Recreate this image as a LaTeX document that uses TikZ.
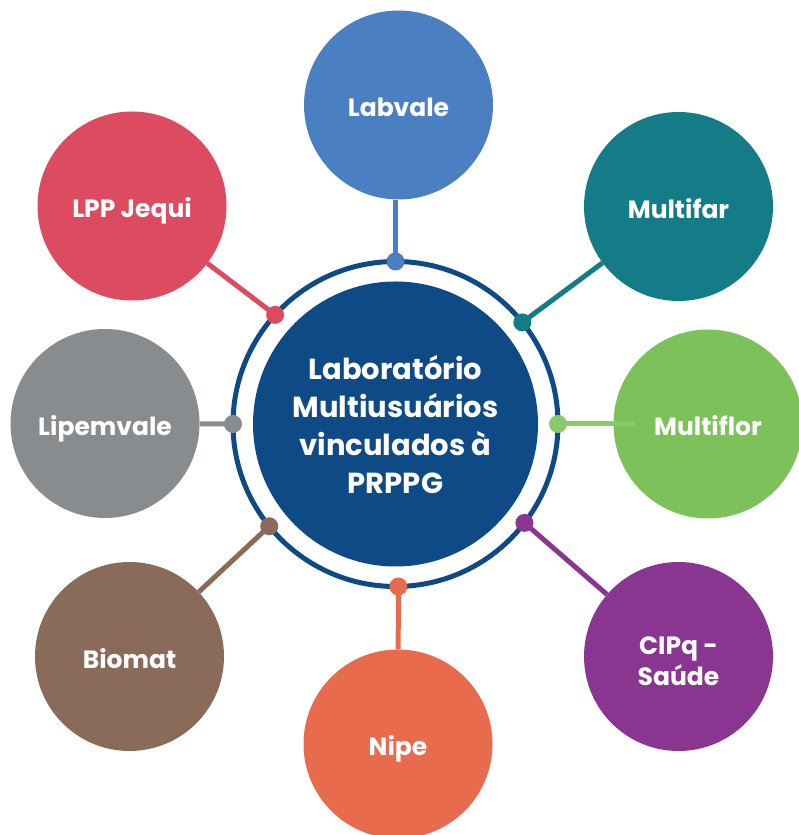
\documentclass[tikz,border=0pt]{standalone}
\usepackage{fontspec}
\setmainfont{Poppins}
\usetikzlibrary{calc}
\definecolor{hubblue}{HTML}{0E4A86}
\definecolor{labvaleblue}{HTML}{4A7FC1}
\definecolor{multifarteal}{HTML}{137C87}
\definecolor{multiflorgreen}{HTML}{7DC15A}
\definecolor{multiflorwire}{HTML}{8CC96B}
\definecolor{cipqpurple}{HTML}{8A3690}
\definecolor{nipeorange}{HTML}{E86B4D}
\definecolor{biomatbrown}{HTML}{8A6A59}
\definecolor{lipemgray}{HTML}{888C8E}
\definecolor{lppred}{HTML}{DC4B60}
\tikzset{
    hubcircle/.style={circle, fill=hubblue, minimum size=285pt, inner sep=0pt,
        text=white, align=center, font=\bfseries\fontsize{29}{38}\selectfont},
    labcircle/.style={circle, minimum size=189pt, inner sep=0pt, text=white,
        align=center, font=\bfseries\fontsize{25}{31}\selectfont,
        text height=24pt, text depth=0pt},
    labwire/.style={line width=5pt},
    labdot/.style={radius=9pt}
}
\begin{document}
\begin{tikzpicture}[x=1pt, y=1pt]
\useasboundingbox (0,0) rectangle (798,835);
% centre and ring
\node[hubcircle] (hub) at (395.5,411) {Laboratório\\Multiusuários\\vinculados à\\PRPPG};
\draw[hubblue, line width=5pt] (hub.center) circle[radius=162.5pt];
% laboratories
\node[labcircle, fill=labvaleblue] (labvale) at (398.5,730) {Labvale};
\node[labcircle, fill=multifarteal] (multifar) at (678.5,628.5) {Multifar};
\node[labcircle, fill=multiflorgreen] (multiflor) at (708,411) {Multiflor};
\node[labcircle, fill=cipqpurple, text height=58pt] (cipq) at (678.5,178.5) {CIPq -\\Saúde};
\node[labcircle, fill=nipeorange] (nipe) at (398,91) {Nipe};
\node[labcircle, fill=biomatbrown] (biomat) at (129.5,178.5) {Biomat};
\node[labcircle, fill=lipemgray] (lipemvale) at (105,411.5) {Lipemvale};
\node[labcircle, fill=lppred] (lpp) at (132,629) {LPP Jequi};
% points on the ring
\coordinate (labvale-dot) at ($(hub.center)+(90:162.5pt)$);
\coordinate (multifar-dot) at ($(hub.center)+(38.7:162.5pt)$);
\coordinate (multiflor-dot) at ($(hub.center)+(0:162.5pt)$);
\coordinate (cipq-dot) at ($(hub.center)+(-37.5:162.5pt)$);
\coordinate (nipe-dot) at ($(hub.center)+(-89:162.5pt)$);
\coordinate (biomat-dot) at ($(hub.center)+(-141:162.5pt)$);
\coordinate (lipemvale-dot) at ($(hub.center)+(180:162.5pt)$);
\coordinate (lpp-dot) at ($(hub.center)+(137.8:162.5pt)$);
\coordinate (multiflor-tip) at (635,411);
% connectors
\draw[labwire, labvaleblue] (labvale-dot) -- (labvale-dot |- labvale.south);
\draw[labwire, multifarteal] (multifar-dot) -- (multifar);
\draw[labwire, multiflorwire] (multiflor-dot) -- (multiflor-tip);
\draw[labwire, cipqpurple] (cipq-dot) -- (cipq);
\draw[labwire, nipeorange] (nipe-dot) -- (nipe);
\draw[labwire, biomatbrown] (biomat-dot) -- (biomat);
\draw[labwire, lipemgray] (lipemvale-dot) -- (lipemvale);
\draw[labwire, lppred] (lpp-dot) -- (lpp);
% dots
\fill[labvaleblue] (labvale-dot) circle[labdot];
\fill[multifarteal] (multifar-dot) circle[labdot];
\fill[multiflorwire] (multiflor-dot) circle[labdot];
\fill[cipqpurple] (cipq-dot) circle[labdot];
\fill[nipeorange] (nipe-dot) circle[labdot];
\fill[biomatbrown] (biomat-dot) circle[labdot];
\fill[lipemgray] (lipemvale-dot) circle[labdot];
\fill[lppred] (lpp-dot) circle[labdot];
\end{tikzpicture}
\end{document}
